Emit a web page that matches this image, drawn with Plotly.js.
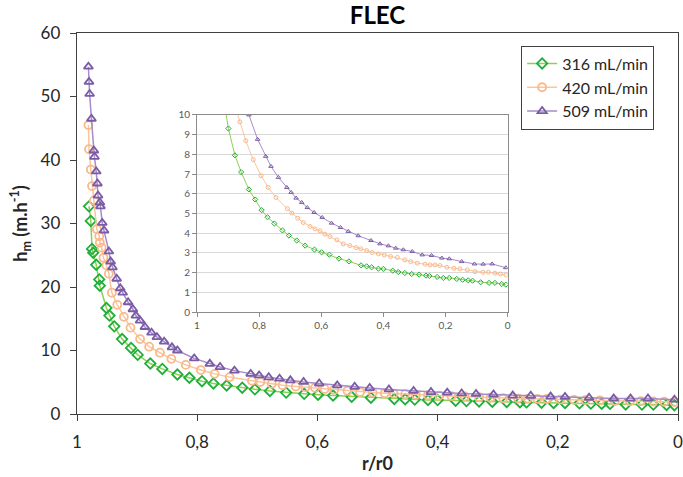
<!DOCTYPE html>
<html>
<head>
<meta charset="utf-8">
<script src="https://cdn.plot.ly/plotly-3.0.1.min.js"></script>
<style>
  body { margin: 0; background: #fff; }
  #chart { width: 683px; height: 477px; }
</style>
</head>
<body>
<div id="chart"></div>
<script>
// r/r0 and h_m values, one pair of arrays per flow rate
const seriesNames = ['316 mL/min', '420 mL/min', '509 mL/min']

const r316 = [0.980, 0.977, 0.975, 0.973, 0.968, 0.963, 0.962, 0.951, 0.946, 0.938, 0.925, 0.910,
    0.899, 0.878, 0.858, 0.833, 0.813, 0.792, 0.773, 0.751, 0.725, 0.704, 0.679, 0.652, 0.622, 0.599,
    0.574, 0.543, 0.511, 0.472, 0.454, 0.438, 0.416, 0.400, 0.370, 0.352, 0.331, 0.309, 0.285, 0.263,
    0.252, 0.227, 0.207, 0.188, 0.164, 0.145, 0.127, 0.113, 0.087, 0.060, 0.041, 0.019, 0.006]
const h316 = [32.7, 30.4, 26.0, 25.4, 23.5, 21.2, 20.2, 16.7, 15.5, 13.8, 11.8, 10.4,
    9.31, 7.95, 7.10, 6.22, 5.71, 5.17, 4.81, 4.49, 4.14, 3.88, 3.63, 3.37, 3.17, 3.03,
    2.91, 2.71, 2.57, 2.37, 2.32, 2.27, 2.20, 2.19, 2.10, 2.03, 1.98, 1.93, 1.90, 1.85,
    1.83, 1.78, 1.73, 1.73, 1.68, 1.64, 1.61, 1.59, 1.51, 1.48, 1.48, 1.42, 1.39]

const r420 = [0.981, 0.980, 0.977, 0.975, 0.972, 0.967, 0.963, 0.962, 0.959, 0.956, 0.951, 0.947,
    0.942, 0.933, 0.922, 0.911, 0.895, 0.880, 0.862, 0.843, 0.819, 0.794, 0.771, 0.746, 0.709, 0.695,
    0.676, 0.658, 0.636, 0.620, 0.604, 0.588, 0.572, 0.550, 0.529, 0.508, 0.488, 0.473, 0.454, 0.436,
    0.416, 0.397, 0.377, 0.355, 0.331, 0.312, 0.291, 0.266, 0.250, 0.234, 0.218, 0.196, 0.173, 0.154,
    0.130, 0.105, 0.080, 0.062, 0.041, 0.023, 0.006]
const h420 = [45.5, 41.7, 38.5, 35.9, 33.6, 29.1, 28.0, 27.0, 26.2, 24.6, 23.4, 22.1,
    19.1, 17.2, 15.3, 13.6, 11.8, 10.6, 9.65, 8.69, 7.73, 6.92, 6.32, 5.81, 5.24, 5.02,
    4.76, 4.54, 4.34, 4.22, 4.12, 3.95, 3.83, 3.66, 3.46, 3.37, 3.27, 3.21, 3.12, 3.02,
    2.95, 2.90, 2.82, 2.77, 2.65, 2.56, 2.48, 2.43, 2.39, 2.39, 2.36, 2.27, 2.22, 2.19,
    2.14, 2.05, 2.02, 2.02, 1.97, 1.93, 1.88]

const r509 = [0.981, 0.980, 0.979, 0.976, 0.972, 0.971, 0.968, 0.966, 0.965, 0.962, 0.961, 0.958,
    0.955, 0.947, 0.944, 0.941, 0.934, 0.928, 0.924, 0.915, 0.907, 0.902, 0.895, 0.887, 0.876, 0.867,
    0.855, 0.842, 0.833, 0.805, 0.779, 0.762, 0.738, 0.711, 0.697, 0.681, 0.663, 0.645, 0.623, 0.597,
    0.567, 0.538, 0.513, 0.481, 0.440, 0.411, 0.384, 0.360, 0.336, 0.307, 0.275, 0.245, 0.212, 0.188,
    0.148, 0.107, 0.079, 0.050, 0.006]
const h509 = [54.7, 52.3, 50.4, 46.5, 41.5, 40.5, 38.2, 36.3, 34.4, 33.3, 32.7, 30.1,
    28.9, 25.6, 24.0, 23.1, 21.3, 19.8, 19.1, 17.6, 16.5, 15.5, 14.7, 13.7, 12.8, 12.1,
    11.4, 10.5, 10.0, 8.76, 7.90, 7.39, 6.83, 6.32, 6.07, 5.78, 5.56, 5.30, 5.05, 4.80,
    4.51, 4.29, 4.09, 3.87, 3.63, 3.46, 3.36, 3.24, 3.16, 3.07, 2.90, 2.87, 2.74, 2.70,
    2.56, 2.44, 2.43, 2.44, 2.25]

const styles = [
    { symbol: 'diamond-open', marker: '#1fae3a', line: '#8fd04f' },
    { symbol: 'circle-open', marker: '#f9b98a', line: '#fbc59c' },
    { symbol: 'triangle-up-open', marker: '#7a5ca6', line: '#a58ccb' }
]
const xs = [r316, r420, r509]
const ys = [h316, h420, h509]

const traces = []
for (let i = 0; i < 3; i++) {
    traces.push({
        x: xs[i], y: ys[i], type: 'scatter', mode: 'lines+markers', name: seriesNames[i],
        line: { color: styles[i].line, width: 1.5 },
        marker: { symbol: styles[i].symbol, color: styles[i].marker, size: 8, line: { width: 1.8 } }
    })
}
for (let i = 0; i < 3; i++) {
    traces.push({
        x: xs[i], y: ys[i], type: 'scatter', mode: 'lines+markers', showlegend: false,
        xaxis: 'x2', yaxis: 'y2',
        line: { color: styles[i].line, width: 1 },
        marker: { symbol: styles[i].symbol, color: styles[i].marker, size: 4, line: { width: 1 } }
    })
}

const font = 'Lato, "Open Sans", sans-serif'

const layout = {
    width: 683, height: 477,
    margin: { l: 77, r: 5, t: 33, b: 63 },
    separators: ', ',
    font: { family: font, color: '#262626' },
    paper_bgcolor: '#fff', plot_bgcolor: '#fff',
    title: {
        text: '<b>FLEC</b>', font: { size: 24, color: '#000' },
        x: 0.5527, xanchor: 'center', y: 0.968, yanchor: 'middle'
    },
    xaxis: {
        range: [1, 0], dtick: 0.2, tick0: 0, showgrid: false, zeroline: false,
        showline: true, linecolor: '#404040', linewidth: 1.3, mirror: true,
        ticks: 'outside', ticklen: 6, tickcolor: '#404040', ticklabelstandoff: 6,
        ticklabeloverflow: 'allow', automargin: false,
        tickfont: { size: 17, color: '#262626' },
        title: { text: '<b>r/r0</b>', font: { size: 18, color: '#262626' }, standoff: 6 }
    },
    yaxis: {
        range: [0, 60], dtick: 10, showgrid: false, zeroline: false,
        showline: true, linecolor: '#404040', linewidth: 1.3, mirror: true,
        ticks: 'outside', ticklen: 6, tickcolor: '#404040', ticklabelstandoff: 6,
        tickfont: { size: 17, color: '#262626' },
        title: { text: '<b>h<sub>m</sub> (m.h<sup>-1</sup>)</b>', font: { size: 18, color: '#262626' }, standoff: 8 }
    },
    xaxis2: {
        domain: [0.1997, 0.7166], anchor: 'y2',
        range: [1, 0], dtick: 0.2, tick0: 0, showgrid: false, zeroline: false,
        showline: true, linecolor: '#8c8c8c', mirror: true,
        ticks: 'outside', ticklen: 4, tickcolor: '#8c8c8c',
        tickfont: { size: 10, color: '#595959' }
    },
    yaxis2: {
        domain: [0.2676, 0.785], anchor: 'x2',
        range: [0, 10], dtick: 1, showgrid: true, gridcolor: '#d9d9d9', zeroline: false,
        showline: true, linecolor: '#8c8c8c', mirror: true,
        ticks: 'outside', ticklen: 4, tickcolor: '#8c8c8c',
        tickfont: { size: 10, color: '#595959' }
    },
    legend: {
        x: 0.739, y: 0.967, xanchor: 'left', yanchor: 'top',
        bgcolor: '#fff', bordercolor: '#404040', borderwidth: 1,
        font: { size: 16, color: '#262626' }, tracegroupgap: 0
    },
    showlegend: true
}

Plotly.newPlot('chart', traces, layout, { displayModeBar: false, staticPlot: true })
</script>
</body>
</html>
